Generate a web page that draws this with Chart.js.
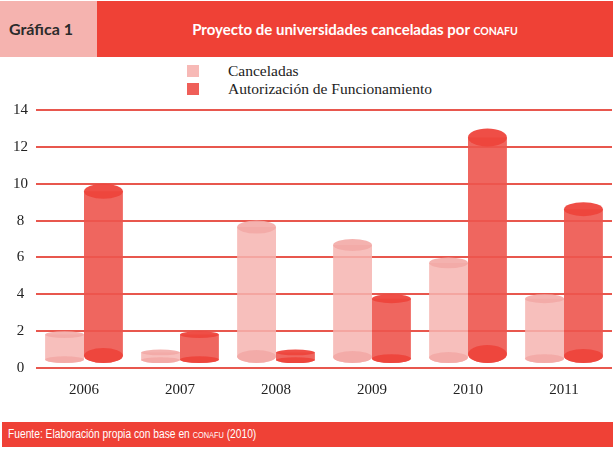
<!DOCTYPE html>
<html lang="es">
  <head>
    <meta charset="UTF-8" />
    <title>Gráfica 1</title>
    <style>
      html, body { margin: 0; padding: 0; background: #fff; }
      body { width: 613px; height: 449px; position: relative; overflow: hidden; }
      .head { position: absolute; left: 0; top: 1px; width: 613px; height: 56px; background: #ef4136; }
      .head .tag {
        position: absolute; left: 0; top: 0; width: 97px; height: 56px; background: #f5b3af;
        font: bold 16px "Lato", "DejaVu Sans", sans-serif; color: #2b2b2b;
        line-height: 56px; padding-left: 9px; box-sizing: border-box;
      }
      .head .title {
        position: absolute; left: 97px; right: 0; top: 0; height: 56px;
        text-align: center; color: #fff; font: bold 15px "Lato", "DejaVu Sans", sans-serif;
        line-height: 56px;
      }
      .sc { font-size: 10.5px; }
      .legend { position: absolute; left: 187px; top: 62px; font: 15.5px "Liberation Serif", serif; color: #222; }
      .legend div { height: 18px; line-height: 18px; position: relative; padding-left: 41px; }
      .legend span { position: absolute; left: 0; top: 3px; width: 12px; height: 12px; }
      #wrap { position: absolute; left: 0; top: 93px; width: 613px; height: 307px; }
      .foot {
        position: absolute; left: 2px; right: 0; top: 422px; height: 25px; background: #ef4136;
        color: #fff; font: 12.5px "Liberation Sans", sans-serif;
        line-height: 25px; padding-left: 6px; white-space: nowrap;
      }
      .foot .txt { display: inline-block; transform: scaleX(0.82); transform-origin: left center; }
      .foot .sc { font-size: 9px; }
    </style>
  </head>
  <body>
    <div class="head">
      <div class="tag">Gráfica 1</div>
      <div class="title">Proyecto de universidades canceladas por <span class="sc">CONAFU</span></div>
    </div>
    <div class="legend">
      <div><span style="background: #f7b9b6"></span>Canceladas</div>
      <div><span style="background: #ef5f59"></span>Autorización de Funcionamiento</div>
    </div>
    <div id="wrap"><canvas id="chart"></canvas></div>
    <div class="foot"><span class="txt">Fuente: Elaboración propia con base en <span class="sc">CONAFU</span> (2010)</span></div>

    <script src="https://cdn.jsdelivr.net/npm/chart.js"></script>
    <script>
      const years = ["2006", "2007", "2008", "2009", "2010", "2011"];
      const canceladas = [2, 1, 8, 7, 6, 4];
      const autorizacion = [10, 2, 1, 4, 13, 9];
      const yMax = 14;
      const yStep = 2;

      // body colour + end-cap colour for each series
      const looks = [
        { body: "rgba(246, 180, 176, 0.85)", cap: "rgba(243, 170, 166, 0.9)" },
        { body: "rgba(237, 85, 78, 0.9)", cap: "rgba(238, 68, 60, 0.95)" },
      ];

      // draws every bar as a cylinder, using the bar elements Chart.js laid out
      const cylinders = {
        id: "cylinders",
        afterDatasetsDraw(chart) {
          const ctx = chart.ctx;
          chart.data.datasets.forEach((ds, i) => {
            const look = looks[i];
            chart.getDatasetMeta(i).data.forEach((bar) => {
              const rx = bar.width / 2;
              const bottom = bar.base - 4;
              const h = bottom - bar.y;
              const ry = Math.min(9, 2.5 + h * 0.028);
              const yt = bar.y + ry;
              const yb = bottom - ry;
              ctx.save();
              ctx.fillStyle = look.body;
              ctx.beginPath();
              ctx.moveTo(bar.x - rx, yt);
              ctx.lineTo(bar.x - rx, yb);
              ctx.ellipse(bar.x, yb, rx, ry, 0, Math.PI, 0, true);
              ctx.lineTo(bar.x + rx, yt);
              ctx.closePath();
              ctx.fill();
              ctx.fillStyle = look.cap;
              ctx.beginPath();
              ctx.ellipse(bar.x, yb, rx, ry, 0, 0, Math.PI * 2);
              ctx.fill();
              ctx.beginPath();
              ctx.ellipse(bar.x, yt, rx, ry, 0, 0, Math.PI * 2);
              ctx.fill();
              ctx.restore();
            });
          });
        },
      };

      const chart = new Chart(document.getElementById("chart"), {
        type: "bar",
        data: {
          labels: years,
          datasets: [
            { label: "Canceladas", data: canceladas },
            { label: "Autorización de Funcionamiento", data: autorizacion },
          ].map((d) => ({
            ...d,
            backgroundColor: "rgba(0,0,0,0)",
            borderWidth: 0,
            categoryPercentage: 0.81,
            barPercentage: 1,
          })),
        },
        options: {
          responsive: true,
          maintainAspectRatio: false,
          animation: false,
          layout: { padding: { top: 6, right: 1, left: 0, bottom: 0 } },
          plugins: { legend: { display: false }, tooltip: { enabled: false } },
          scales: {
            x: {
              grid: { display: false },
              border: { display: false },
              ticks: { font: { family: "Liberation Serif", size: 15 }, color: "#222", padding: 5 },
              afterFit: (s) => { s.height = 32; },
            },
            y: {
              min: 0,
              max: yMax,
              ticks: {
                stepSize: yStep,
                crossAlign: "center",
                padding: 8,
                font: { family: "Liberation Serif", size: 15 },
                color: "#222",
              },
              grid: { color: "#e8574e", lineWidth: 2, drawTicks: false },
              border: { display: false },
              afterFit: (s) => { s.width = 36; },
            },
          },
        },
        plugins: [cylinders],
      });
    </script>
  </body>
</html>
